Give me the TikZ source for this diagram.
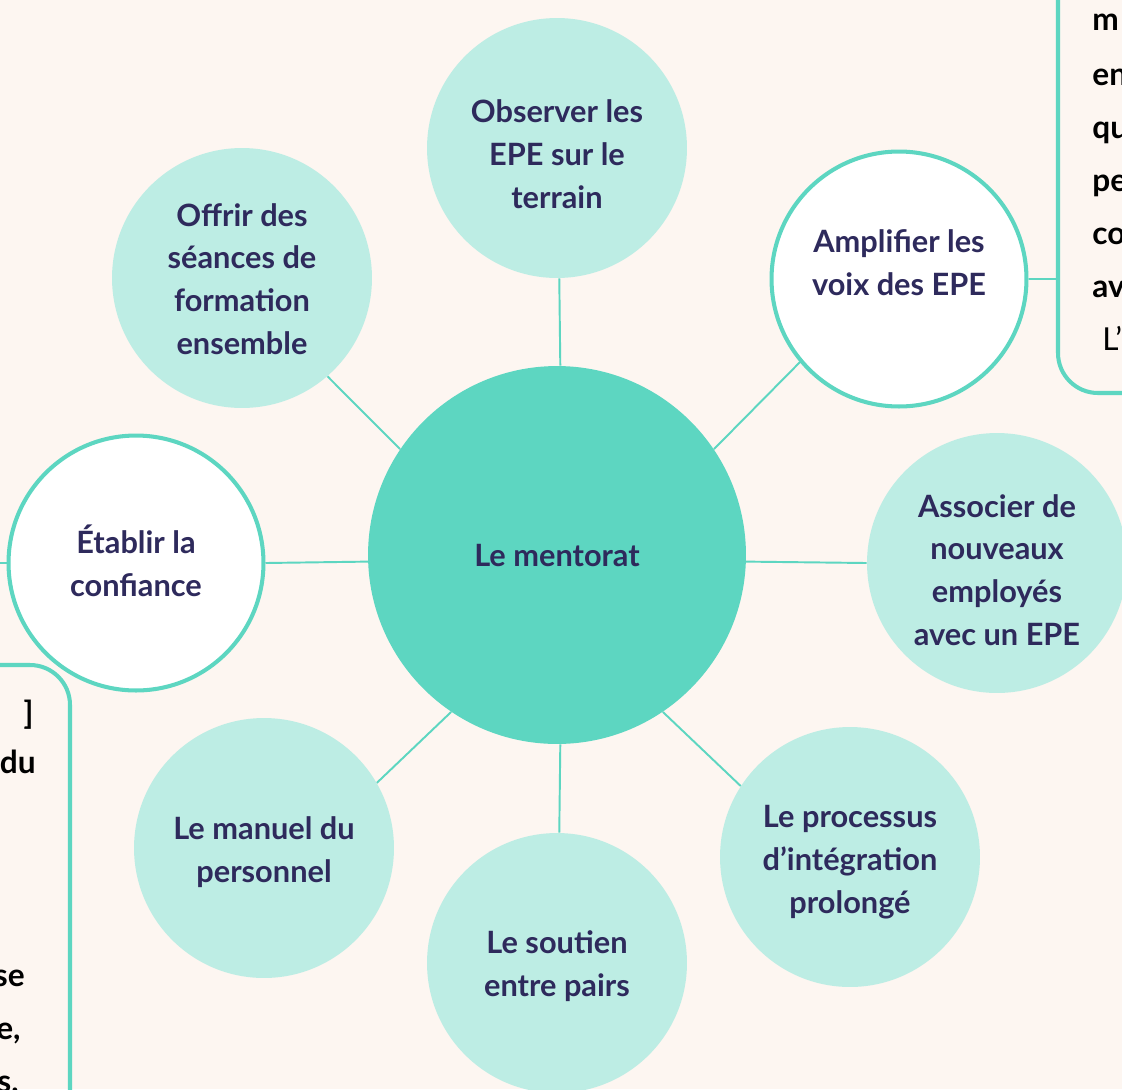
\documentclass[tikz,border=0pt]{standalone}
\usepackage{fontspec}
\setmainfont{Lato}
\usepackage{tikz}
\usetikzlibrary{positioning}
\usetikzlibrary{calc}

\definecolor{cream}{HTML}{FDF6F1}
\definecolor{teal}{HTML}{5DD6C1}
\definecolor{paleteal}{HTML}{BDEDE4}
\definecolor{navy}{HTML}{2E2A5C}

\tikzset{
  hub/.style={circle, fill=teal, minimum size=7.56cm, inner sep=0pt, text=navy, font=\fontsize{17.5}{24.4}\selectfont\bfseries},
  sat/.style={circle, fill=paleteal, minimum size=5.2cm, inner sep=0pt},
  satw/.style={sat, fill=white, draw=teal, line width=2.3pt, minimum size=5.1cm},
  lbl/.style={inner sep=0pt, align=center, text=navy, font=\fontsize{17.5}{24.4}\selectfont\bfseries},
  spoke/.style={teal, line width=1.1pt},
  boxline/.style={draw=teal, line width=2.3pt, rounded corners=0.8cm},
  boxtext/.style={inner sep=0pt, text=black, font=\fontsize{18}{24}\selectfont\bfseries}
}

\begin{document}
\begin{tikzpicture}[x=0.02cm, y=-0.02cm]
\useasboundingbox (0,0) rectangle (1122,1089);
\clip (0,0) rectangle (1122,1089);
\fill[cream] (0,0) rectangle (1122,1089);
%%%%%%%%%%%%%%%%%%%%%%%%%%%%%%%%%%%%%
\draw[boxline] (1058,-60) -- (1058,393) -- (1200,393);
\draw[boxline] (-60,665) -- (70,665) -- (70,1150);
%%%%%%%%%%%%%%%%%%%%%%%%%%%%%%%%%%%%%
\node[boxtext, anchor=base west] (r1) at (1092,30) {m};
\node[boxtext, anchor=base west] (r2) at (1092,85) {en};
\node[boxtext, anchor=base west] (r3) at (1092,138) {qu};
\node[boxtext, anchor=base west] (r4) at (1092,191) {pe};
\node[boxtext, anchor=base west] (r5) at (1092,244) {co};
\node[boxtext, anchor=base west] (r6) at (1092,297) {av};
\node[boxtext, anchor=base west, font=\fontsize{18}{24}\selectfont] (r7) at (1102,350) {L’};
%%%%%%%%%%%%%%%%%%%%%%%%%%%%%%%%%%%%%
\node[boxtext, anchor=base east] (l1) at (34,724) {]};
\node[boxtext, anchor=base east] (l2) at (36,773) {du};
\node[boxtext, anchor=base east] (l3) at (25,986) {se};
\node[boxtext, anchor=base east] (l4) at (21,1039) {e,};
\node[boxtext, anchor=base east] (l5) at (19,1092) {s,};
%%%%%%%%%%%%%%%%%%%%%%%%%%%%%%%%%%%%%
\node[hub] (mentorat) at (557,555) {Le mentorat};
\node[sat] (observer) at (557,148) {};
\node[sat] (offrir) at (242,278) {};
\node[satw] (amplifier) at (899,279) {};
\node[satw] (etablir) at (136,563) {};
\node[sat] (associer) at (997,563) {};
\node[sat] (manuel) at (264,848) {};
\node[sat] (soutien) at (557,963) {};
\node[sat] (processus) at (850,857) {};
%%%%%%%%%%%%%%%%%%%%%%%%%%%%%%%%%%%%%
\node[lbl] (observer-t) at ($(observer)+(0,6)$) {Observer les\\EPE sur le\\terrain};
\node[lbl] (offrir-t) at ($(offrir)+(0,1)$) {Offrir des\\séances de\\formation\\ensemble};
\node[lbl] (amplifier-t) at ($(amplifier)+(0,-16)$) {Amplifier les\\voix des EPE};
\node[lbl] (etablir-t) at ($(etablir)+(0,-2)$) {Établir la\\confiance};
\node[lbl] (associer-t) at ($(associer)+(0,7)$) {Associer de\\nouveaux\\employés\\avec un EPE};
\node[lbl] (manuel-t) at ($(manuel)+(0,4)$) {Le manuel du\\personnel};
\node[lbl] (soutien-t) at ($(soutien)+(0,3)$) {Le soutien\\entre pairs};
\node[lbl] (processus-t) at ($(processus)+(0,5)$) {Le processus\\d'intégration\\prolongé};
%%%%%%%%%%%%%%%%%%%%%%%%%%%%%%%%%%%%%
\coordinate (rboxedge) at (1058,279);
\coordinate (lframe) at (0,563);
%%%%%%%%%%%%%%%%%%%%%%%%%%%%%%%%%%%%%
\draw[spoke] (mentorat.89) -- (observer.271);
\draw[spoke] (mentorat.146) -- (offrir.311);
\draw[spoke] (mentorat.34) -- (amplifier.220);
\draw[spoke] (mentorat.182) -- (etablir.0);
\draw[spoke] (mentorat.358) -- (associer.180);
\draw[spoke] (mentorat.236) -- (manuel.30);
\draw[spoke] (mentorat.271) -- (soutien.89);
\draw[spoke] (mentorat.304) -- (processus.147);
\draw[spoke] (amplifier) -- (rboxedge);
\draw[spoke] (etablir.180) -- (lframe);
\end{tikzpicture}
\end{document}
